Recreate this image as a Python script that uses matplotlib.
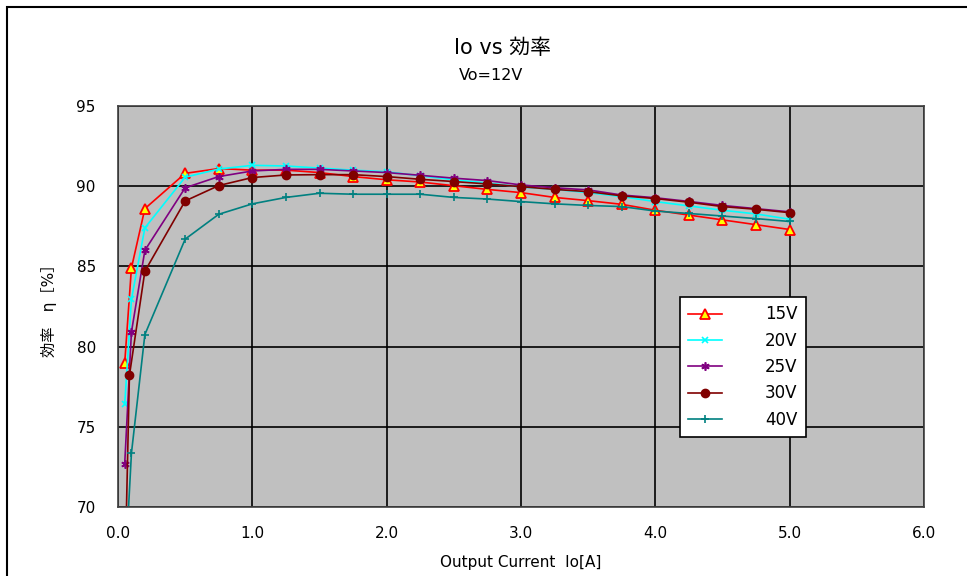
import numpy as np
import matplotlib.pyplot as plt
from matplotlib.patches import Rectangle

plt.rcParams['font.family'] = ['DejaVu Sans', 'Noto Sans CJK JP']

# output current [A]
io_main = [0.05, 0.1, 0.2, 0.5, 0.75, 1.0, 1.25, 1.5, 1.75, 2.0, 2.25, 2.5, 2.75,
           3.0, 3.25, 3.5, 3.75, 4.0, 4.25, 4.5, 4.75, 5.0]
io_30v = [0.05, 0.085, 0.2, 0.5, 0.75, 1.0, 1.25, 1.5, 1.75, 2.0, 2.25, 2.5, 2.75,
          3.0, 3.25, 3.5, 3.75, 4.0, 4.25, 4.5, 4.75, 5.0]

# efficiency [%]
eff_15v = [79.0, 84.9, 88.6, 90.8, 91.1, 91.0, 91.0, 90.85, 90.6, 90.4, 90.26, 90.03, 89.8,
           89.6, 89.3, 89.1, 88.87, 88.5, 88.2, 87.9, 87.6, 87.3]
eff_20v = [76.4, 82.95, 87.4, 90.56, 91.07, 91.3, 91.26, 91.13, 91.0, 90.9, 90.65, 90.4, 90.2,
           89.95, 89.8, 89.6, 89.35, 89.04, 88.77, 88.5, 88.27, 87.94]
eff_25v = [72.7, 80.9, 86.0, 89.9, 90.6, 90.95, 91.05, 91.05, 90.95, 90.85, 90.68, 90.5, 90.35,
           90.08, 89.9, 89.77, 89.45, 89.28, 89.05, 88.8, 88.6, 88.4]
eff_30v = [65.0, 78.2, 84.7, 89.08, 90.04, 90.54, 90.7, 90.72, 90.72, 90.6, 90.43, 90.29, 90.14,
           89.97, 89.8, 89.66, 89.4, 89.23, 89.0, 88.73, 88.56, 88.35]
eff_40v = [65.5, 73.35, 80.75, 86.7, 88.25, 88.9, 89.3, 89.56, 89.5, 89.5, 89.5, 89.3, 89.2,
           89.04, 88.9, 88.8, 88.73, 88.45, 88.3, 88.14, 87.98, 87.8]

fig = plt.figure(figsize=(9.67, 5.76), dpi=100)
ax = fig.add_axes([118/967, 1-507/576, (924-118)/967, (507-106)/576])

# outer chart frame
fig.patches.append(Rectangle((7/967, -0.1), 1.2, 1.1-7/576, transform=fig.transFigure,
                             fill=False, edgecolor='black', linewidth=1.5))

ax.set_facecolor('#C0C0C0')
asterisk = (6, 2, 0)

ax.plot(io_main, eff_15v, color='red', lw=1.2, marker='^', ms=7, mfc='yellow', mec='red', mew=1.3, label='15V')
ax.plot(io_main, eff_20v, color='cyan', lw=1.2, marker='x', ms=5, mec='cyan', mew=1.2, label='20V')
ax.plot(io_main, eff_25v, color='#800080', lw=1.2, marker=asterisk, ms=6, mec='#800080', mew=1.2, label='25V')
ax.plot(io_30v, eff_30v, color='#800000', lw=1.2, marker='o', ms=6, mfc='#800000', mec='#800000', label='30V')
ax.plot(io_main, eff_40v, color='#008080', lw=1.2, marker='+', ms=6, mec='#008080', mew=1.2, label='40V')

ax.set_xlim(0, 6)
ax.set_ylim(70, 95)
ax.set_xticks(np.arange(0, 6.1, 1.0))
ax.set_xticklabels([f'{v:.1f}' for v in np.arange(0, 6.1, 1.0)])
ax.set_yticks(np.arange(70, 96, 5))
ax.grid(True, color='black', lw=1.2)
ax.set_axisbelow(True)
ax.tick_params(length=0, labelsize=11)
ax.tick_params(axis='y', pad=16)
ax.tick_params(axis='x', pad=14)
for s in ax.spines.values():
    s.set_color('#404040')
    s.set_linewidth(1.2)

ax.set_xlabel('Output Current  Io[A]', fontsize=11, labelpad=10)
ax.set_ylabel('効率　η［%］', fontsize=11, labelpad=14)
fig.text(503/967, 1-48/576, 'Io vs 効率', ha='center', va='center', fontsize=15)
fig.text(491/967, 1-75/576, 'Vo=12V', ha='center', va='center', fontsize=11.5)

leg = ax.legend(loc='upper left', bbox_to_anchor=((680-118)/806, (507-297)/401),
                borderaxespad=0, fontsize=12, frameon=True, fancybox=False,
                edgecolor='black', facecolor='white', framealpha=1,
                handlelength=2.0, labelspacing=0.5, borderpad=0.5, handletextpad=2.6)
leg.get_frame().set_linewidth(1.2)

fig.savefig('out.png', dpi=100)
